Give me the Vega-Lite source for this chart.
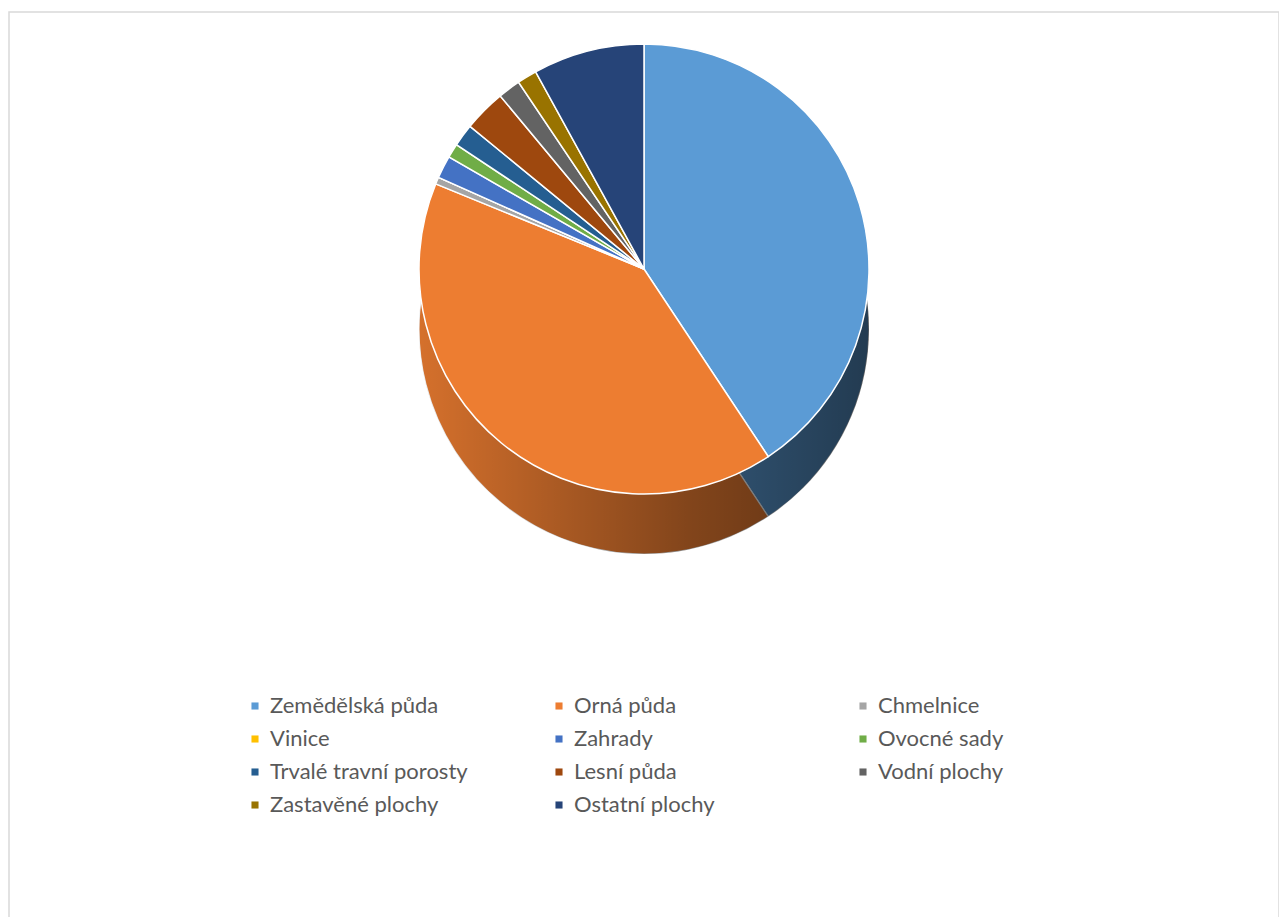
{
  "$schema": "https://vega.github.io/schema/vega-lite/v6.json",
  "width": 1270,
  "height": 910,
  "autosize": {"type": "none"},
  "padding": {"left": 9, "top": 12, "right": 0, "bottom": 0},
  "background": "white",
  "view": {"stroke": "#d9d9d9", "strokeWidth": 1.5},
  "config": {
    "view": {"stroke": "#d9d9d9", "strokeWidth": 1.5},
    "font": "Lato"
  },
  "datasets": {
    "land": [
      {"i": 1, "druh": "Zemědělská půda", "podil": 40.2},
      {"i": 2, "druh": "Orná půda", "podil": 40.0},
      {"i": 3, "druh": "Chmelnice", "podil": 0.5},
      {"i": 4, "druh": "Vinice", "podil": 0.0},
      {"i": 5, "druh": "Zahrady", "podil": 1.6},
      {"i": 6, "druh": "Ovocné sady", "podil": 1.0},
      {"i": 7, "druh": "Trvalé travní porosty", "podil": 1.6},
      {"i": 8, "druh": "Lesní půda", "podil": 3.0},
      {"i": 9, "druh": "Vodní plochy", "podil": 1.6},
      {"i": 10, "druh": "Zastavěné plochy", "podil": 1.4},
      {"i": 11, "druh": "Ostatní plochy", "podil": 7.9}
    ],
    "whole": [{"podil": 1}]
  },
  "resolve": {"scale": {"theta": "independent"}},
  "layer": [
    {
      "data": {"name": "land"},
      "mark": {"type": "arc", "outerRadius": 225, "yOffset": -138, "stroke": "white", "strokeWidth": 1.2},
      "encoding": {
        "theta": {"field": "podil", "type": "quantitative", "stack": true},
        "order": {"field": "i", "type": "quantitative"},
        "color": {
          "field": "druh", "type": "nominal",
          "scale": {
            "domain": ["Zemědělská půda", "Orná půda", "Chmelnice", "Vinice", "Zahrady", "Ovocné sady", "Trvalé travní porosty", "Lesní půda", "Vodní plochy", "Zastavěné plochy", "Ostatní plochy"],
            "range": ["#5B9BD5", "#ED7D31", "#A5A5A5", "#FFC000", "#4472C4", "#70AD47", "#255E91", "#9E480E", "#636363", "#997300", "#264478"]
          },
          "legend": {
            "title": null,
            "orient": "none",
            "legendX": 235,
            "legendY": 683,
            "direction": "horizontal",
            "columns": 3,
            "gridAlign": "all",
            "columnPadding": 80,
            "rowPadding": 11,
            "symbolType": "square",
            "symbolSize": 50,
            "symbolStrokeWidth": 0,
            "labelFontSize": 22,
            "labelFont": "Lato",
            "labelColor": "#595959",
            "labelOffset": 4,
            "labelLimit": 400
          }
        }
      }
    },
    {
      "data": {"name": "whole"},
      "mark": {
        "type": "arc", "outerRadius": 225, "yOffset": -138,
        "color": {
          "gradient": "linear", "x1": 0, "y1": 0, "x2": 1, "y2": 0,
          "stops": [
            {"offset": 0, "color": "rgba(0,0,0,0.1)"},
            {"offset": 0.6, "color": "rgba(0,0,0,0.45)"},
            {"offset": 1, "color": "rgba(0,0,0,0.62)"}
          ]
        }
      },
      "encoding": {
        "theta": {"field": "podil", "type": "quantitative"}
      }
    },
    {
      "data": {"name": "land"},
      "mark": {"type": "arc", "outerRadius": 225, "yOffset": -198, "stroke": "white", "strokeWidth": 1.5},
      "encoding": {
        "theta": {"field": "podil", "type": "quantitative", "stack": true},
        "order": {"field": "i", "type": "quantitative"},
        "color": {
          "field": "druh", "type": "nominal"
        }
      }
    }
  ]
}
